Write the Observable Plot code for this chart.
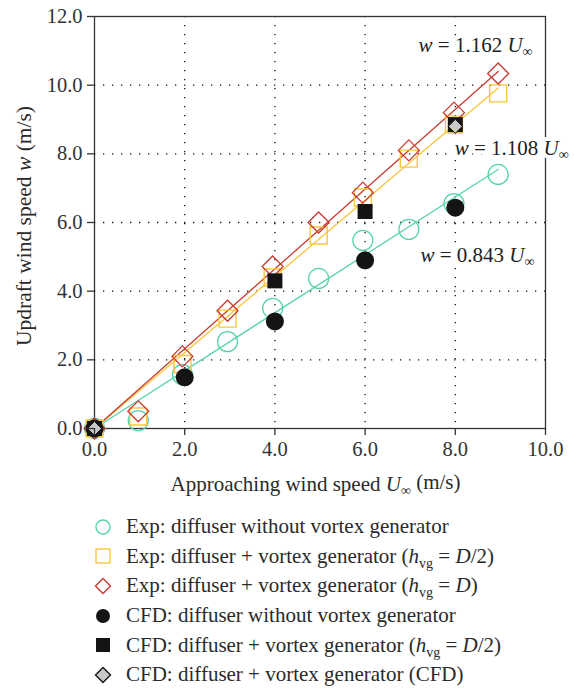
<!DOCTYPE html>
<html>
<head>
<meta charset="utf-8">
<script src="https://cdn.jsdelivr.net/npm/d3@7"></script>
<script src="https://cdn.jsdelivr.net/npm/@observablehq/plot@0.6"></script>
<style>
  body { margin: 0; background: #fff; font-family: "Liberation Serif", "DejaVu Serif", serif; color: #2a2a2a; }
  #legend { padding-top: 7px; padding-left: 93px; }
  .row { display: flex; align-items: center; height: 29.6px; font-size: 21px; white-space: nowrap; }
  .row svg { margin-right: 13px; flex: none; }
  .row sub { font-size: 14px; vertical-align: -5px; line-height: 0; }
</style>
</head>
<body>
<div id="chart"></div>
<div id="legend"></div>
<script>
// ---- data ----
const expX      = [0, 0.97, 1.95, 2.95, 3.95, 4.97, 5.95, 6.97, 7.97, 8.95];
const expNoVG   = [0, 0.23, 1.57, 2.53, 3.50, 4.37, 5.48, 5.80, 6.55, 7.40];
const expHalfD  = [0, 0.35, 1.88, 3.20, 4.40, 5.62, 6.73, 7.86, 8.85, 9.76];
const expFullD  = [0, 0.50, 2.10, 3.43, 4.72, 6.00, 6.87, 8.10, 9.20, 10.34];
const cfdNoVGX  = [0, 2, 4, 6, 8];
const cfdNoVG   = [0, 1.49, 3.12, 4.90, 6.43];
const cfdHalfDX = [0, 4, 6, 8];
const cfdHalfD  = [0, 4.30, 6.32, 8.85];
const cfdVGX    = [0, 8];
const cfdVG     = [0, 8.80];
const fitSlopes = [0.843, 1.108, 1.162];
const fitXRange = [0, 8.95];
const fitLabelX = [8.49, 9.25, 8.45];
const fitLabelY = [5.04, 8.16, 11.16];
const xTicks = [0, 2, 4, 6, 8, 10];
const yTicks = [0, 2, 4, 6, 8, 10, 12];
const legendLabels = [
  "Exp: diffuser without vortex generator",
  "Exp: diffuser + vortex generator (<i>h</i><sub>vg</sub> = <i>D</i>/2)",
  "Exp: diffuser + vortex generator (<i>h</i><sub>vg</sub> = <i>D</i>)",
  "CFD: diffuser without vortex generator",
  "CFD: diffuser + vortex generator (<i>h</i><sub>vg</sub> = <i>D</i>/2)",
  "CFD: diffuser + vortex generator (CFD)"
];

const GREEN = "#57d3ac", YELLOW = "#fbc63c", RED = "#c83a2f", BLACK = "#141414", GRAY = "#c9c9cc";
const FONT = "Liberation Serif, DejaVu Serif, serif";

const sq = {draw(c, s) { const r = Math.sqrt(s / Math.PI); c.rect(-r, -r, 2 * r, 2 * r); }};
const dm = {draw(c, s) { const r = Math.sqrt(s / Math.PI); c.moveTo(0, -r); c.lineTo(r, 0); c.lineTo(0, r); c.lineTo(-r, 0); c.closePath(); }};

const zip = (xs, ys) => xs.map((x, i) => [x, ys[i]]);
const fitLines = fitSlopes.map((s) => fitXRange.map((x) => [x, s * x]));
const fitColors = [GREEN, YELLOW, RED];
const annos = fitSlopes.map((s, i) => ({x: fitLabelX[i], y: fitLabelY[i], s}));

const plot = Plot.plot({
  width: 575,
  height: 505,
  marginTop: 16,
  marginBottom: 77,
  marginLeft: 94,
  marginRight: 30,
  style: {fontFamily: FONT, fontSize: "20.5px", color: "#333", background: "#fff", overflow: "visible"},
  x: {domain: [0, 10]},
  y: {domain: [0, 12]},
  marks: [
    Plot.ruleX(xTicks.slice(1, -1), {stroke: "#111", strokeWidth: 1.3, strokeDasharray: "1.3,7.7"}),
    Plot.ruleY(yTicks.slice(1, -1), {stroke: "#111", strokeWidth: 1.3, strokeDasharray: "1.3,7.7"}),
    Plot.frame({stroke: "#333", strokeWidth: 1.3}),
    ...fitLines.map((l, i) => Plot.line(l, {stroke: fitColors[i], strokeWidth: 1.3})),
    Plot.dot(zip(expX, expNoVG), {r: 10, stroke: GREEN, strokeWidth: 1.3, fill: "none"}),
    Plot.dot(zip(expX, expHalfD), {r: 8.5, symbol: sq, stroke: YELLOW, strokeWidth: 1.4, fill: "none"}),
    Plot.dot(zip(expX, expFullD), {r: 10.5, symbol: dm, stroke: RED, strokeWidth: 1.3, fill: "none"}),
    Plot.dot(zip(cfdNoVGX, cfdNoVG), {r: 9, fill: BLACK, stroke: "none"}),
    Plot.dot(zip(cfdHalfDX, cfdHalfD), {r: 7.5, symbol: sq, fill: BLACK, stroke: "none"}),
    Plot.dot(zip(cfdVGX, cfdVG), {r: 7, symbol: dm, fill: GRAY, stroke: BLACK, strokeWidth: 1}),
    Plot.text(annos, {x: "x", y: "y", text: (d) => `w = ${d.s} U∞`, fill: "#222", stroke: "white", strokeWidth: 8, fontSize: 21, textAnchor: "middle", className: "fitlabel"}),
    Plot.axisX({ticks: xTicks, tickFormat: (d) => d.toFixed(1), tickSize: 7, tickPadding: 6, label: null, stroke: "#333", strokeWidth: 1.3}),
    Plot.axisY({ticks: yTicks, tickFormat: (d) => d.toFixed(1), tickSize: 7, tickPadding: 5, label: null, stroke: "#333", strokeWidth: 1.3})
  ]
});
document.getElementById("chart").appendChild(plot);

// rich text helper
function rich(sel, parts, subSize) {
  sel.text(null);
  let shifted = false;
  for (const [str, kind] of parts) {
    const t = sel.append("tspan").text(str);
    if (kind === "i") t.attr("font-style", "italic");
    if (kind === "sub") { t.attr("font-size", subSize + "px").attr("dy", "0.3em"); shifted = true; }
    else if (shifted) { t.attr("dy", "-0.3em"); shifted = false; }
  }
}

const svg = d3.select(plot);
svg.selectAll(".fitlabel text").each(function(d, i) {
  const s = annos[i] ? annos[i].s : fitSlopes[i];
  rich(d3.select(this), [["w", "i"], [` = ${s} `, ""], ["U", "i"], ["∞", "sub"]], 14);
});

const xs = plot.scale("x"), ys = plot.scale("y");
const xMid = (xs.apply(0) + xs.apply(10)) / 2 - 4;
const yMid = (ys.apply(0) + ys.apply(12)) / 2 + 4;
const xl = svg.append("text").attr("x", xMid).attr("y", 491).attr("text-anchor", "middle")
  .attr("font-family", FONT).attr("font-size", 21).attr("fill", "#2a2a2a");
rich(xl, [["Approaching wind speed ", ""], ["U", "i"], ["∞", "sub"], [" (m/s)", ""]], 14);
const yl = svg.append("text").attr("transform", `translate(31,${yMid}) rotate(-90)`).attr("text-anchor", "middle")
  .attr("font-family", FONT).attr("font-size", 21.5).attr("fill", "#2a2a2a");
rich(yl, [["Updraft wind speed ", ""], ["w", "i"], [" (m/s)", ""]], 14);

// legend
const swatches = [
  {sym: "circle", fill: "none", stroke: GREEN, r: 7},
  {sym: "square", fill: "none", stroke: YELLOW, r: 7},
  {sym: "diamond", fill: "none", stroke: RED, r: 7.5},
  {sym: "circle", fill: BLACK, stroke: "none", r: 7},
  {sym: "square", fill: BLACK, stroke: "none", r: 7},
  {sym: "diamond", fill: GRAY, stroke: BLACK, r: 7.5}
];
const legend = d3.select("#legend");
legendLabels.forEach((lab, i) => {
  const sw = swatches[i];
  const row = legend.append("div").attr("class", "row");
  const s = row.append("svg").attr("width", 20).attr("height", 20).append("g").attr("transform", "translate(10,10)");
  const att = (e) => e.attr("fill", sw.fill).attr("stroke", sw.stroke).attr("stroke-width", 1.4);
  if (sw.sym === "circle") att(s.append("circle").attr("r", sw.r));
  else if (sw.sym === "square") att(s.append("rect").attr("x", -sw.r).attr("y", -sw.r).attr("width", 2 * sw.r).attr("height", 2 * sw.r));
  else att(s.append("path").attr("d", `M0,${-sw.r}L${sw.r},0L0,${sw.r}L${-sw.r},0Z`));
  row.append("span").html(lab);
});
</script>
</body>
</html>
